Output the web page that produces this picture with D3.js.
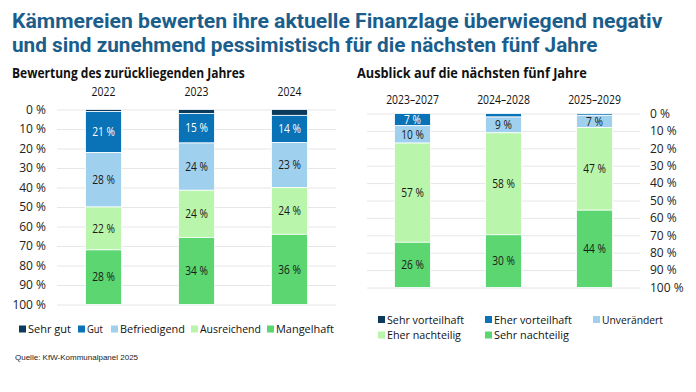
<!DOCTYPE html>
<html><head><meta charset="utf-8">
<script src="https://cdn.jsdelivr.net/npm/d3@7"></script>
<style>
html,body{margin:0;padding:0;background:#fff;}
svg{display:block;font-family:"Open Sans",sans-serif;}
</style></head>
<body>
<svg id="c" width="696" height="392"></svg>
<script>
// ---------- DATA ----------
const leftCategories = ["2022", "2023", "2024"];
const leftSeriesNames = ["Sehr gut", "Gut", "Befriedigend", "Ausreichend", "Mangelhaft"];
const sehrGut      = [1, 2, 3];
const gut          = [21, 15, 14];
const befriedigend = [28, 24, 23];
const ausreichend  = [22, 24, 24];
const mangelhaft   = [28, 34, 36];

const rightCategories = ["2023–2027", "2024–2028", "2025–2029"];
const rightSeriesNames = ["Sehr vorteilhaft", "Eher vorteilhaft", "Unverändert", "Eher nachteilig", "Sehr nachteilig"];
const sehrVorteilhaft = [0, 0, 0];
const eherVorteilhaft = [7, 2, 1];
const unveraendert    = [10, 9, 7];
const eherNachteilig  = [57, 58, 47];
const sehrNachteilig  = [26, 30, 44];

const tickValues = [0, 10, 20, 30, 40, 50, 60, 70, 80, 90, 100];
const titleLines = ["Kämmereien bewerten ihre aktuelle Finanzlage überwiegend negativ",
                    "und sind zunehmend pessimistisch für die nächsten fünf Jahre"];
const leftSubtitle = "Bewertung des zurückliegenden Jahres";
const rightSubtitle = "Ausblick auf die nächsten fünf Jahre";
const sourceText = "Quelle: KfW-Kommunalpanel 2025";

// ---------- STYLE ----------
const colors = ["#0c3a5c", "#0a72b6", "#9fd0ee", "#b9f5aa", "#5bd670"];
const labelColors = ["#ffffff", "#ffffff", "#1a1a1a", "#1a1a1a", "#1a1a1a"];
const titleColor = "#1b5e8b";

const svg = d3.select("#c");

// text helper: draws text at (x,y) horizontally condensed by sx or fitted to width w
function addText(parent, x, y, str, o) {
  const t = parent.append("text").attr("x", 0).attr("y", 0)
    .attr("font-size", o.size).attr("font-weight", o.weight || 400)
    .attr("fill", o.fill || "#111").attr("text-anchor", o.anchor || "start")
    .text(str);
  if (o.family) t.attr("font-family", o.family);
  if (o.dy) t.attr("dy", o.dy);
  let sx = o.sx || 1;
  if (o.w) sx = o.w / t.node().getComputedTextLength();
  t.attr("transform", `translate(${x},${y}) scale(${sx},1)`);
  return t;
}

// title lines
addText(svg, 12, 27.5, titleLines[0], { size: 20.5, weight: 700, fill: titleColor, w: 651, family: "Roboto, sans-serif" });
addText(svg, 12, 52, titleLines[1], { size: 20.5, weight: 700, fill: titleColor, w: 586, family: "Roboto, sans-serif" });
addText(svg, 12, 78, leftSubtitle, { size: 14, weight: 700, w: 233 });
addText(svg, 357, 78, rightSubtitle, { size: 14, weight: 700, w: 230 });
addText(svg, 15, 360, sourceText, { size: 8, fill: "#222", family: "Liberation Sans, Arial, sans-serif" });

function drawChart(cfg) {
  const { cats, names, series, x0, x1, y0, y1, axisSide, catY, catSx } = cfg;
  const rows = cats.map((c, i) => {
    const r = { cat: c };
    names.forEach((n, k) => r[n] = series[k][i]);
    return r;
  });
  const stack = d3.stack().keys(names).offset(d3.stackOffsetExpand);
  const layers = stack(rows);

  const x = d3.scaleBand().domain(cats).range([x0, x1]);
  const step = (x1 - x0) / cats.length;
  const pin = 1 - 36 / step;
  x.paddingInner(pin).paddingOuter(pin / 2);
  const y = d3.scaleLinear().domain([0, 1]).range([y0, y1]);

  // axis + grid
  const g = svg.append("g");
  let axis;
  if (axisSide === "left") {
    axis = d3.axisLeft(y).tickSize(-(x1 - x0)).tickPadding(11);
    g.attr("transform", `translate(${x0},0)`);
  } else {
    axis = d3.axisRight(y).tickSize(-(x1 - x0)).tickPadding(10);
    g.attr("transform", `translate(${x1},0)`);
  }
  axis.tickValues(tickValues.map(v => v / 100)).tickFormat(d => Math.round(d * 100) + " %");
  g.call(axis);
  g.select(".domain").remove();
  g.selectAll(".tick line").attr("stroke", "#e6e6e6").attr("stroke-width", 1);
  g.selectAll(".tick text").attr("font-size", 12).attr("fill", "#222")
    .attr("font-family", "Open Sans, sans-serif");

  // category labels
  const cg = svg.append("g");
  cats.forEach(c => addText(cg, x(c) + x.bandwidth() / 2, catY, c, { size: 13, anchor: "middle", sx: catSx }));

  // bars
  const lg = svg.append("g").selectAll("g").data(layers).join("g")
    .attr("fill", (d, i) => colors[i]);
  lg.selectAll("rect").data(d => d).join("rect")
    .attr("x", d => x(d.data.cat))
    .attr("width", x.bandwidth())
    .attr("y", d => y(d[0]))
    .attr("height", d => Math.max(0, y(d[1]) - y(d[0])))
    .attr("stroke", "#fff").attr("stroke-width", 0.8);

  // value labels
  layers.forEach((layer, k) => {
    svg.append("g").selectAll("text").data(layer.filter(d => d.data[layer.key] >= 5)).join("text")
      .attr("transform", d => `translate(${x(d.data.cat) + x.bandwidth() / 2},${(y(d[0]) + y(d[1])) / 2}) scale(0.85,1)`)
      .attr("dy", "0.35em").attr("text-anchor", "middle")
      .attr("font-size", 12).attr("fill", labelColors[k])
      .text(d => d.data[layer.key] + " %");
  });
}

drawChart({
  cats: leftCategories, names: leftSeriesNames,
  series: [sehrGut, gut, befriedigend, ausreichend, mangelhaft],
  x0: 57, x1: 336, y0: 109.5, y1: 304.5, axisSide: "left", catY: 96, catSx: 0.8
});
drawChart({
  cats: rightCategories, names: rightSeriesNames,
  series: [sehrVorteilhaft, eherVorteilhaft, unveraendert, eherNachteilig, sehrNachteilig],
  x0: 367, x1: 640, y0: 113.5, y1: 287.5, axisSide: "right", catY: 104, catSx: 0.8
});

// legends
function legend(items) {
  items.forEach(it => {
    svg.append("rect").attr("x", it.sx).attr("y", it.y - 3.5).attr("width", 7).attr("height", 7)
      .attr("fill", colors[it.c]);
    addText(svg, it.sx + 9, it.y, it.t, { size: 11.5, dy: "0.35em", w: it.w });
  });
}
legend([
  { t: leftSeriesNames[0], c: 0, sx: 19, y: 329, w: 43 },
  { t: leftSeriesNames[1], c: 1, sx: 78, y: 329, w: 16 },
  { t: leftSeriesNames[2], c: 2, sx: 111, y: 329, w: 65 },
  { t: leftSeriesNames[3], c: 3, sx: 191, y: 329, w: 61 },
  { t: leftSeriesNames[4], c: 4, sx: 267, y: 329, w: 58 },
  { t: rightSeriesNames[0], c: 0, sx: 378, y: 319.5, w: 77 },
  { t: rightSeriesNames[1], c: 1, sx: 485, y: 319.5, w: 78 },
  { t: rightSeriesNames[2], c: 2, sx: 593, y: 319.5, w: 61 },
  { t: rightSeriesNames[3], c: 3, sx: 378, y: 335, w: 74 },
  { t: rightSeriesNames[4], c: 4, sx: 485, y: 335, w: 75 }
]);
</script>
</body></html>
